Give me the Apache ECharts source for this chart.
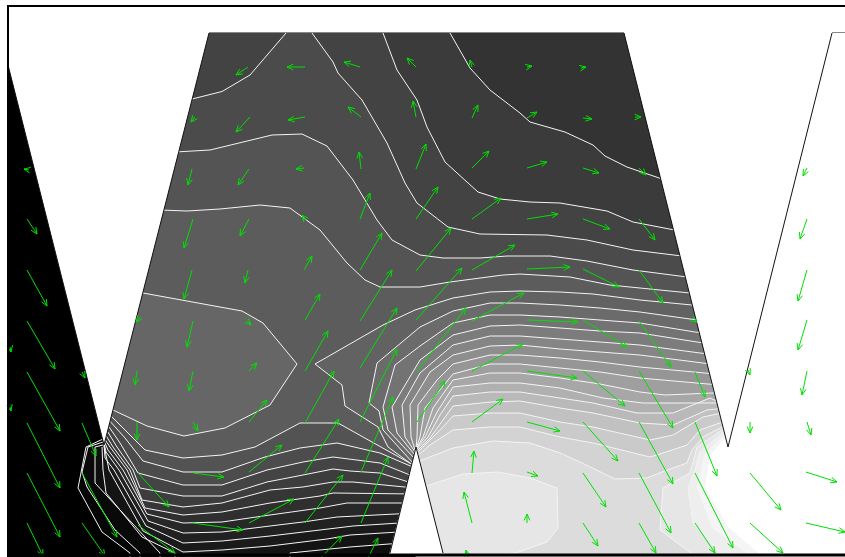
<!DOCTYPE html>
<html><head><meta charset="utf-8">
<style>html,body{margin:0;padding:0;background:#fff}#c{width:845px;height:557px}</style>
<script src="https://cdn.jsdelivr.net/npm/echarts@6/dist/echarts.min.js"></script>
</head><body><div id="c"></div>
<script>
// Contour lines, in picture units
const C4=[[160,210],[187,211],[220,209],[260,205],[290,208],[320,230],[347,263],[365,280],[380,287],[420,287],[450,282],[503,275],[520,274],[570,277],[610,285],[700,294]];
const C3=[[175,152],[210,150],[272,135],[302,134],[327,146],[353,180],[377,220],[392,240],[420,255],[443,258],[480,258],[507,256],[550,256],[587,261],[633,270],[695,278]];
const L1=[[188,100],[222,91.5],[250,75],[286,33],[286,20]];
const L2=[[312,20],[312,33],[333,62],[338,73],[362,100],[387,143],[405,183],[417,203],[448,227],[480,234],[547,235],[587,240],[633,250],[690,257]];
const L3=[[383,20],[383,33],[397,70],[417,100],[427,127],[445,162],[478,192],[500,199],[530,202],[560,203],[607,211],[633,222],[685,232]];
const L4=[[450,20],[450,33],[470,68],[490,90],[520,113],[530,122],[565,132],[593,145],[605,156],[627,167],[668,181]];
const LOBE=[[135,291],[143,293],[242,311],[263,323],[297,364],[270,405],[225,428],[184,436],[147,426],[113,410],[104,404]];

const D1=[[109,414],[128,433],[145,450],[183,458],[222,455],[255,447],[300,423],[338,423],[363,437],[415,466]];
const D2=[[108,419],[125,438],[143,461],[183,472],[222,472],[265,457],[300,448],[337,443],[380,453],[415,468]];
const D3=[[107,424],[120,443],[138,473],[183,485],[222,485],[267,470],[303,462],[333,457],[380,463],[415,477]];
const D4=[[106,429],[117,447],[133,470],[140,488],[183,496],[222,496],[267,482],[303,475],[333,469],[350,471],[380,473],[415,484]];
const D5=[[105,434],[113,447],[130,470],[142,500],[183,507],[222,503],[270,490],[303,487],[333,482],[353,482],[415,488]];
const D6=[[104,438],[110,447],[127,470],[145,508],[183,515],[222,512],[270,503],[320,496],[333,493],[415,494]];
const D7=[[104,441],[108,450],[123,470],[147,514],[183,523],[222,522],[270,515],[320,508],[347,503],[415,503]];
const D8=[[104,443],[106,452],[119,470],[148,521],[183,533],[222,532],[270,526],[303,522],[337,517],[415,513]];
const D9=[[104,444],[105,458],[114,470],[146,526],[183,543],[222,541],[270,536],[320,530],[353,526],[415,522]];
const D10=[[104,446],[106,455],[109,470],[143,531],[183,552],[222,550],[270,546],[327,539],[350,535],[415,531]];
const D11=[[102,447],[103,470],[106,493],[142,537],[175,553],[175,562],[290,562],[290,553],[350,547],[415,542]];
const D12=[[103,445],[95,447],[95,483],[132,523],[160,553],[160,562],[175,562]];
const D13=[[103,442],[88,447],[82,472],[87,487],[115,530],[140,553],[140,562],[160,562]];
const D14=[[103,439],[86,447],[78,488],[102,532],[130,553],[130,562],[140,562]];

const R1=[[700,305],[692,305],[640,300],[593,294],[560,292],[520,291],[490,292],[453,298],[415,310],[383,325],[315,364],[342,385],[345,406],[378,427],[388,447],[414,466]];
const R2=[[700,320],[690,319],[640,312],[600,308],[560,305],[520,303],[490,303],[453,311],[420,327],[377,363],[369,403],[379,411],[383,430],[413,463]];
const R3=[[705,333],[695,332],[640,323],[600,320],[560,317],[520,315],[490,315],[453,323],[420,346],[395,365],[383,407],[388,430],[414,458]];
const R4=[[705,343],[697,342],[640,333],[600,331],[560,328],[520,325],[490,326],[453,335],[420,360],[392,407],[397,433],[414,454]];
const R5=[[710,354],[700,353],[640,345],[600,342],[560,339],[520,336],[490,336],[453,345],[420,373],[402,405],[405,437],[415,452]];
const R6=[[710,364],[703,363],[640,355],[600,352],[560,349],[520,345],[490,346],[453,355],[430,372],[410,405],[411,437],[415,450]];
const R7=[[715,374],[705,373],[640,367],[600,362],[560,358],[520,355],[490,355],[453,364],[437,380],[418,405],[417,437],[416,449]];
const R8=[[720,385],[708,384],[640,378],[600,372],[560,368],[520,364],[490,364],[453,374],[425,408],[420,437],[416,449]];
const R9=[[722,393],[712,393],[665,395],[640,392],[600,384],[560,378],[520,373],[490,373],[453,380],[433,408],[423,437],[416,449]];
const R10=[[725,403],[718,403],[680,403],[643,403],[603,398],[560,388],[520,383],[490,383],[453,387],[437,412],[425,437],[416,449]];
const R11=[[726,405],[710,398],[673,413],[637,413],[593,403],[560,398],[520,392],[490,392],[453,396],[440,415],[428,437],[416,450]];
const R12=[[726,408],[707,410],[673,425],[640,423],[593,413],[560,408],[520,401],[490,402],[453,406],[443,420],[430,438],[417,451]];
const R13=[[727,412],[703,417],[673,435],[650,440],[593,427],[560,422],[520,413],[490,413],[453,416],[440,430],[417,453]];
const R14=[[728,420],[700,430],[687,445],[663,453],[650,457],[593,443],[560,437],[520,427],[490,427],[453,430],[430,445],[417,456]];
const R15=[[728,424],[703,437],[692,450],[687,463],[662,472],[647,478],[615,479],[580,462],[560,453],[530,443],[493,441],[453,448],[417,462]];
const LOBE2=[[420,488],[463,474],[498,472],[530,478],[557,488],[558,528],[547,542],[510,555],[510,562],[420,562]];
const B1=[[728,426],[697,447],[690,473],[663,488],[660,530],[695,556],[700,562]];
const B2=[[728,428],[700,452],[695,470],[688,488],[693,523],[722,556],[726,562]];
const B3=[[728,431],[704,455],[697,488],[712,528],[750,556],[755,562]];
const B4=[[728,435],[710,455],[705,487],[728,527],[762,556],[768,562]];

// Closures for the painted areas (all run outside the visible domain)
const upTo=(a,b)=>[[a,20],[b,20]];
const closeDown=[[415,562],[0,562],[0,40],[50,40]];
const closeRight=[[416,562],[845,562],[845,20],[760,20]];
const closeB=[[845,562],[845,20],[760,20]];
const closeLobe=[];

const fillLayers=[
 [C4,upTo(720,150),'#545454'],[C3,upTo(705,170),'#4b4b4b'],[L1,upTo(180,180),'#434343'],[L2,upTo(700,312),'#434343'],[L3,upTo(690,383),'#3b3b3b'],[L4,upTo(680,450),'#333333'],
 [D1,closeDown,'#535353'],[D2,closeDown,'#4c4c4c'],[D3,closeDown,'#444444'],[D4,closeDown,'#3d3d3d'],[D5,closeDown,'#363636'],[D6,closeDown,'#2f2f2f'],[D7,closeDown,'#282828'],[D8,closeDown,'#212121'],[D9,closeDown,'#1a1a1a'],[D10,closeDown,'#141414'],[D11,closeDown,'#0e0e0e'],[D12,closeDown,'#090909'],[D13,closeDown,'#050505'],[D14,closeDown,'#000000'],
 [R1,closeRight,'#626262'],[R2,closeRight,'#6b6b6b'],[R3,closeRight,'#737373'],[R4,closeRight,'#7c7c7c'],[R5,closeRight,'#858585'],[R6,closeRight,'#8e8e8e'],[R7,closeRight,'#969696'],[R8,closeRight,'#9f9f9f'],[R9,closeRight,'#a7a7a7'],[R10,closeRight,'#b0b0b0'],[R11,closeRight,'#b9b9b9'],[R12,closeRight,'#c1c1c1'],[R13,closeRight,'#cacaca'],[R14,closeRight,'#d3d3d3'],[R15,closeRight,'#dcdcdc'],
 [LOBE,closeLobe,'#666666'],[LOBE2,closeLobe,'#e6e6e6'],
 [B1,closeB,'#e6e6e6'],[B2,closeB,'#eeeeee'],[B3,closeB,'#f5f5f5'],[B4,closeB,'#ffffff']
];
const contourLines=[C4,C3,L1,L2,L3,L4,LOBE,D1,D2,D3,D4,D5,D6,D7,D8,D9,D10,D11,D12,D13,D14,R1,R2,R3,R4,R5,R6,R7,R8,R9,R10,R11,R12,R13,R14,R15,LOBE2,B1,B2];

const domainBase=[[0,0],[845,0],[845,557],[0,557]];
const maskTop=[[0,0],[845,0],[845,33],[832,33],[728,447],[624,33],[209,33],[104,445],[8,65],[0,65]];
const maskLeft=[[0,0],[7,0],[7,557],[0,557]];
const maskNotch=[[416,447],[443,555],[389,555]];
const barBottom=[[7,553.5],[845,553.5],[845,556.5],[7,556.5]];

const edgeBlack=[[[8,65],[104,445],[209,33]],[[624,33],[728,447],[832,33]],[[390,553],[416,447],[443,553]]];
const edgeGray=[[[209,32.5],[624,32.5]],[[832,32.5],[845,32.5]]];
const frame=[[845,6],[8,6],[8,554]];

// Arrows: tail x, tail y, head x, head y
const arrows=[
[248,67,236,75],[305,67,287,67],[360,67,344,62],[416,67,407,58],[472,67,470,60],[527,67,532,66],[581,68,586,67],
[195,117,191,122],[250,117,236,132],[305,117,288,120],[361,117,348,107],[416,117,413,101],[472,118,478,105],[527,118,537,112],[583,118,592,119],[635,117,641,117],
[29,170,24,169],[192,169,188,185],[249,169,238,185],[304,168,296,169],[361,169,359,152],[416,169,426,144],[472,168,489,151],[527,168,547,162],[583,168,599,173],[639,168,646,175],[807,168,803,176],
[27,219,37,234],[193,219,184,248],[249,219,240,236],[306,220,302,215],[360,219,370,193],[416,219,438,187],[472,219,501,198],[527,219,558,214],[583,219,610,229],[639,219,655,240],[807,219,800,239],
[27,270,47,306],[192,270,184,299],[248,270,245,283],[304,270,312,256],[360,270,382,233],[416,271,451,228],[472,270,515,245],[527,269,570,267],[583,269,619,287],[639,270,663,303],[807,270,798,301],
[27,321,55,369],[140,317,136,322],[193,321,187,347],[247,321,251,325],[305,320,320,294],[360,321,392,270],[416,320,462,268],[472,321,524,293],[527,320,578,322],[583,320,627,347],[639,321,671,367],[694,320,697,322],[807,320,798,350],
[10,347,11,352],[27,372,60,431],[82,372,85,378],[137,371,135,385],[193,371,189,391],[249,371,257,363],[305,371,328,331],[360,368,397,308],[417,371,466,308],[472,371,523,344],[527,371,577,378],[583,371,625,406],[639,371,673,428],[695,372,705,397],[748,370,750,375],[807,371,802,395],
[10,407,11,411],[27,423,60,488],[82,423,96,456],[137,422,137,440],[193,422,198,431],[249,422,267,400],[305,423,334,371],[360,422,397,349],[417,422,445,381],[472,422,503,399],[527,422,560,431],[583,422,618,461],[639,422,673,484],[695,422,717,476],[750,422,750,433],[807,422,811,435],
[27,473,60,537],[82,473,117,537],[138,473,169,507],[193,473,224,477],[249,472,282,445],[305,473,339,419],[361,472,393,397],[472,473,474,451],[527,472,538,476],[583,473,606,507],[639,473,671,533],[695,473,733,548],[750,473,781,510],[806,472,837,482],
[27,523,43,556],[82,523,105,556],[138,525,175,553],[193,523,243,530],[249,523,294,499],[305,523,343,475],[361,523,388,457],[472,523,464,492],[527,523,527,514],[583,523,598,546],[639,523,656,553],[695,523,715,553],[750,523,783,553],[806,523,845,532],
[305,574,342,536],[360,574,378,538],[472,574,466,550]
];

function polyItem(pts,api,style){
  return {type:'polygon',shape:{points:pts.map(p=>api.coord(p))},style:style,silent:true};
}
function lineItem(pts,api,style){
  return {type:'polyline',shape:{points:pts.map(p=>api.coord(p))},style:Object.assign({fill:null},style),silent:true};
}

const whitePolys=[maskTop,maskLeft,maskNotch];
const chart=echarts.init(document.getElementById('c'),null,{renderer:'canvas'});
const simple=(n,render,z)=>({type:'custom',name:n,coordinateSystem:'cartesian2d',clip:false,z:z,silent:true,animation:false,
  data:[0],encode:{x:[],y:[]},renderItem:render});
chart.setOption({
  animation:false,
  backgroundColor:'#ffffff',
  grid:{left:0,right:0,top:0,bottom:0},
  xAxis:{type:'value',min:0,max:845,show:false},
  yAxis:{type:'value',min:0,max:557,inverse:true,show:false},
  tooltip:{show:false},
  series:[
    simple('base',(p,api)=>polyItem(domainBase,api,{fill:'#5c5c5c'}),1),
    simple('bands',(p,api)=>({type:'group',children:fillLayers.map(l=>polyItem(l[0].concat(l[1]),api,{fill:l[2]}))}),2),
    simple('contours',(p,api)=>({type:'group',children:contourLines.map(l=>lineItem(l,api,{stroke:'#f4f4f4',lineWidth:1}))}),3),
    simple('mask',(p,api)=>({type:'group',children:whitePolys.map(l=>polyItem(l,api,{fill:'#ffffff'}))}),4),
    simple('edges',(p,api)=>({type:'group',children:edgeBlack.map(l=>lineItem(l,api,{stroke:'#111111',lineWidth:1})).concat(edgeGray.map(l=>lineItem(l,api,{stroke:'#888888',lineWidth:1})))}),5),
    {type:'custom',name:'vectors',coordinateSystem:'cartesian2d',clip:false,z:6,silent:true,animation:false,
     data:arrows,encode:{x:[0,2],y:[1,3]},
     renderItem:(p,api)=>{
       const a=api.coord([api.value(0),api.value(1)]),b=api.coord([api.value(2),api.value(3)]);
       const ang=Math.atan2(b[1]-a[1],b[0]-a[0]),h=7,s=0.42;
       const c1=[b[0]-h*Math.cos(ang-s),b[1]-h*Math.sin(ang-s)],c2=[b[0]-h*Math.cos(ang+s),b[1]-h*Math.sin(ang+s)];
       const st={stroke:'#00e000',lineWidth:1,fill:null};
       return {type:'group',silent:true,children:[
         {type:'polyline',shape:{points:[a,b]},style:st},
         {type:'polyline',shape:{points:[c1,b,c2]},style:st}]};
     }},
    simple('frame',(p,api)=>({type:'group',children:[polyItem(barBottom,api,{fill:'#000000'}),lineItem(frame,api,{stroke:'#000000',lineWidth:2})]}),7)
  ]
});
</script></body></html>
